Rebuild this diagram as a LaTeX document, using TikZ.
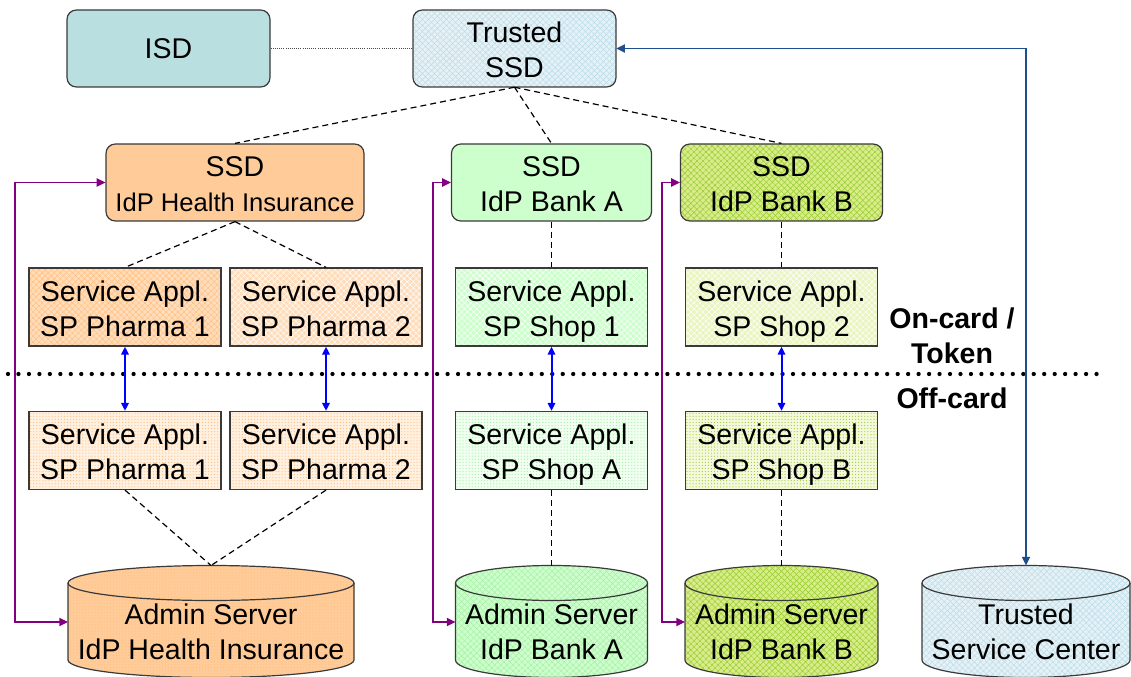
\documentclass[tikz,border=0pt]{standalone}
\usepackage{fontspec}
\setmainfont{Liberation Sans}
\usetikzlibrary{patterns.meta,arrows.meta}

\definecolor{boxline}{HTML}{3A3A3A}
\definecolor{isdfill}{HTML}{B9DFE1}
\definecolor{tbase}{HTML}{E4F1F6}
\definecolor{tgrid}{HTML}{BCDCE8}
\definecolor{orbase}{HTML}{FFCC99}
\definecolor{orlight}{HTML}{FFDDBB}
\definecolor{orgrid}{HTML}{FFBF80}
\definecolor{orpale}{HTML}{FFF0E0}
\definecolor{grbase}{HTML}{CCFFCC}
\definecolor{grgrid}{HTML}{A8EEA8}
\definecolor{grpale}{HTML}{F0FFF0}
\definecolor{ygbase}{HTML}{D8EC8A}
\definecolor{yggrid}{HTML}{99CC33}
\definecolor{yglight}{HTML}{EBF5C2}
\definecolor{ygpale}{HTML}{F4F9DC}
\definecolor{admpurple}{HTML}{800080}
\definecolor{linkblue}{HTML}{0000FF}
\definecolor{tscblue}{HTML}{1F4E8C}

\newcommand\dfont{\fontsize{21.4}{26.25}\selectfont}
% fixed total height and depth for two-line labels, so all of them sit alike
\newcommand\firstln{\rule{0pt}{48.6pt}}
\newcommand\lastln{\rule[-4.6pt]{0pt}{4.6pt}}

% database cylinder: name, centre x, half width, fill style, text
\newcommand\dbcyl[5]{%
  \path[#4, draw=boxline, line width=0.9pt]
    (#2-#3,583) -- (#2-#3,660)
    arc[start angle=180, end angle=0, x radius=#3, y radius=17.5]
    -- (#2+#3,583)
    arc[start angle=0, end angle=-180, x radius=#3, y radius=17.5] -- cycle;
  \draw[boxline, line width=0.9pt] (#2-#3,583)
    arc[start angle=180, end angle=0, x radius=#3, y radius=17.5];
  \node[twoline, align=center, font=\dfont, inner sep=0pt] (#1) at (#2,630.4) {#5};
  \coordinate (#1-top) at (#2,565.5);
  \coordinate (#1-w) at (#2-#3,622);
}

\begin{document}
\begin{tikzpicture}[x=0.75pt, y=-0.75pt,
  twoline/.style={execute at begin node=\firstln, execute at end node=\lastln},
  cell/.style={draw=boxline, line width=0.9pt, align=center, inner sep=0pt,
    font=\dfont, text=black},
  box/.style={cell, twoline},
  rbox/.style={box, rounded corners=7pt},
  topsize/.style={minimum height=77*0.75pt},
  appsize/.style={minimum width=192*0.75pt, minimum height=78*0.75pt},
  gridfill/.style 2 args={preaction={fill=#1},
    pattern={Hatch[angle=45, distance=3.2pt, line width=0.35pt]}, pattern color=#2},
  dotfill/.style 2 args={preaction={fill=#1},
    pattern={Dots[distance=2.3pt, radius=0.45pt]}, pattern color=#2},
  link/.style={dashed, dash pattern=on 4.5pt off 3pt, line width=0.9pt, black},
  padm/.style={admpurple, line width=1.4pt,
    {Triangle[length=6.5pt, width=6pt]}-{Triangle[length=6.5pt, width=6pt]}},
  pblue/.style={linkblue, line width=1.5pt,
    {Triangle[length=6pt, width=5.5pt]}-{Triangle[length=6pt, width=5.5pt]}},
  ptsc/.style={tscblue, line width=1.4pt,
    {Triangle[length=6.5pt, width=6pt]}-{Triangle[length=6.5pt, width=6pt]}},
  sep/.style={line width=3.2pt, line cap=round, dash pattern=on 0pt off 7.85pt},
  zone/.style={font=\dfont\bfseries, align=center, inner sep=0pt}
]
\useasboundingbox (0,0) rectangle (1131,677);

% card side
\node[cell, rounded corners=7pt, topsize, fill=isdfill, minimum width=203*0.75pt] (isd) at (168.5,48.5) {ISD};
\node[rbox, topsize, gridfill={tbase}{tgrid}, minimum width=203*0.75pt] (tssd) at (514.5,48.5) {Trusted\\SSD};

\node[rbox, topsize, fill=orbase, minimum width=258*0.75pt] (ssdH) at (235,182.5)
  {SSD\\{\fontsize{19.2}{26.25}\selectfont IdP Health Insurance}};
\node[rbox, topsize, fill=grbase, minimum width=200*0.75pt] (ssdA) at (551.5,182.5) {SSD\\IdP Bank A};
\node[rbox, topsize, gridfill={ygbase}{yggrid}, minimum width=202*0.75pt] (ssdB) at (781.5,182.5) {SSD\\IdP Bank B};

\node[box, appsize, gridfill={orlight}{orgrid}] (appH1) at (125,307) {Service Appl.\\SP Pharma 1};
\node[box, appsize, gridfill={orlight}{white}] (appH2) at (326,307) {Service Appl.\\SP Pharma 2};
\node[box, appsize, gridfill={grbase}{white}] (appA) at (551.5,307) {Service Appl.\\SP Shop 1};
\node[box, appsize, gridfill={yglight}{white}] (appB) at (781.5,307) {Service Appl.\\SP Shop 2};

% off-card side
\node[box, appsize, dotfill={orpale}{orgrid}] (offH1) at (125,450.5) {Service Appl.\\SP Pharma 1};
\node[box, appsize, dotfill={orpale}{orgrid}] (offH2) at (326,450.5) {Service Appl.\\SP Pharma 2};
\node[box, appsize, dotfill={grpale}{grgrid}] (offA) at (551.5,450.5) {Service Appl.\\SP Shop A};
\node[box, appsize, dotfill={ygpale}{yggrid}] (offB) at (781.5,450.5) {Service Appl.\\SP Shop B};

\dbcyl{admH}{211}{143}{dotfill={orbase}{orgrid}}{Admin Server\\IdP Health Insurance}
\dbcyl{admA}{551.5}{96}{gridfill={grbase}{grgrid}}{Admin Server\\IdP Bank A}
\dbcyl{admB}{781.5}{96.5}{gridfill={ygbase}{yggrid}}{Admin Server\\IdP Bank B}
\dbcyl{tsc}{1026}{104}{gridfill={tbase}{tgrid}}{Trusted\\Service Center}

% boundary between card and off-card parts
\draw[sep] (8,374) -- (1102,374);
\node[zone] (oncard) at (952,335.5) {On-card /\\Token};
\node[zone] (offcard) at (952,398) {Off-card};

% hierarchy
\draw[densely dotted, line width=0.6pt, black!70] (isd) -- (tssd);
\draw[link] (tssd.south) -- (ssdH.north);
\draw[link] (tssd.south) -- (ssdA.north);
\draw[link] (tssd.south) -- (ssdB.north);
\draw[link] (ssdH.south) -- (appH1.north);
\draw[link] (ssdH.south) -- (appH2.north);
\draw[link] (ssdA) -- (appA);
\draw[link] (ssdB) -- (appB);
\draw[link] (offH1.south) -- (admH-top);
\draw[link] (offH2.south) -- (admH-top);
\draw[link] (offA.south) -- (admA-top);
\draw[link] (offB.south) -- (admB-top);

% card / off-card communication
\draw[pblue] (appH1) -- (offH1);
\draw[pblue] (appH2) -- (offH2);
\draw[pblue] (appA) -- (offA);
\draw[pblue] (appB) -- (offB);

% administration channels
\draw[padm] (ssdH.west) -- ++(-90,0) |- (admH-w);
\draw[padm] (ssdA.west) -- ++(-18,0) |- (admA-w);
\draw[padm] (ssdB.west) -- ++(-18,0) |- (admB-w);
\draw[ptsc] (tssd.east) -| (tsc-top);
\end{tikzpicture}
\end{document}
